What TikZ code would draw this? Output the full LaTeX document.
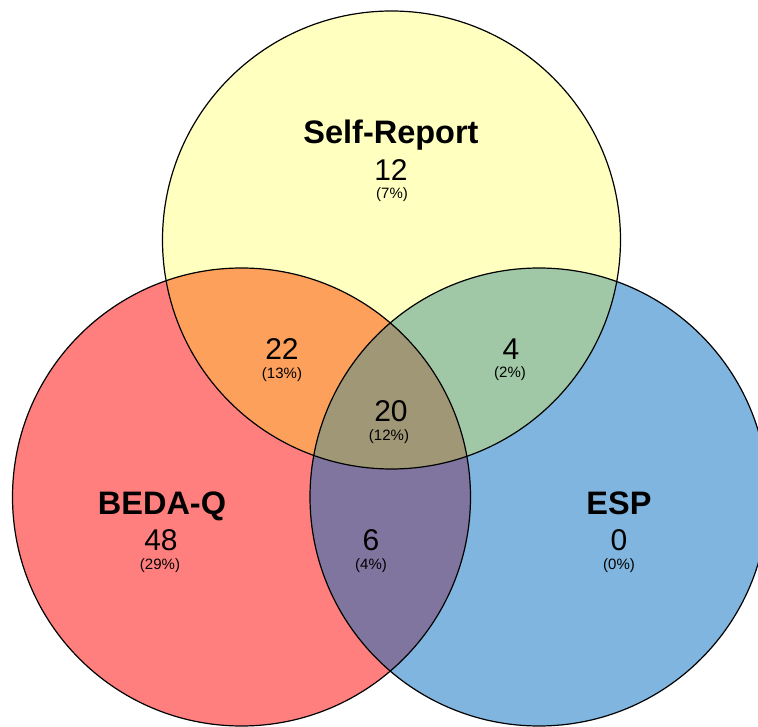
\documentclass[tikz,border=0pt]{standalone}
\usepackage{fontspec}
\setmainfont{Liberation Sans}
\definecolor{cY}{RGB}{255,255,192}
\definecolor{cR}{RGB}{255,127,127}
\definecolor{cB}{RGB}{127,181,222}
\definecolor{cRY}{RGB}{253,160,92}
\definecolor{cYB}{RGB}{160,200,166}
\definecolor{cRB}{RGB}{128,117,158}
\definecolor{cRYB}{RGB}{160,151,118}
\begin{document}
\begin{tikzpicture}[x=1pt,y=1pt,
  setname/.style={font=\bfseries\fontsize{32.5}{32.5}\selectfont, anchor=base, inner sep=0pt},
  count/.style={font=\fontsize{30}{30}\selectfont, anchor=base, inner sep=0pt},
  pct/.style={font=\fontsize{15}{15}\selectfont, anchor=base, inner sep=0pt},
  outline/.style={draw=black, line width=1.2pt}]
\useasboundingbox (0,0) rectangle (758,726);
\clip (0,0) rectangle (758,726);
\def\rad{229}
\coordinate (Y) at (391.5,486);
\coordinate (R) at (241.5,229);
\coordinate (B) at (539,229);
% base fills
\fill[cY] (Y) circle (\rad);
\fill[cR] (R) circle (\rad);
\fill[cB] (B) circle (\rad);
% pairwise overlaps
\begin{scope}\clip (R) circle (\rad); \fill[cRY] (Y) circle (\rad);\end{scope}
\begin{scope}\clip (Y) circle (\rad); \fill[cYB] (B) circle (\rad);\end{scope}
\begin{scope}\clip (R) circle (\rad); \fill[cRB] (B) circle (\rad);\end{scope}
% triple overlap
\begin{scope}\clip (R) circle (\rad); \clip (Y) circle (\rad); \fill[cRYB] (B) circle (\rad);\end{scope}
% outlines
\draw[outline] (Y) circle (\rad);
\draw[outline] (R) circle (\rad);
\draw[outline] (B) circle (\rad);
% labels
\node[setname] (nSR) at (391,582) {Self-Report};
\node[count] (c12) at (391,545) {12};
\node[pct] (p7) at (392,527) {(7\%)};
\node[count] (c22) at (282,366) {22};
\node[pct] (p13) at (282,347) {(13\%)};
\node[count] (c4) at (511,366) {4};
\node[pct] (p2) at (510,348) {(2\%)};
\node[count] (c20) at (391,304) {20};
\node[pct] (p12) at (389,285) {(12\%)};
\node[setname] (nBQ) at (162,211) {BEDA-Q};
\node[count] (c48) at (161,175) {48};
\node[pct] (p29) at (160,156) {(29\%)};
\node[count] (c6) at (371,175) {6};
\node[pct] (p4) at (371,156) {(4\%)};
\node[setname] (nESP) at (619,211) {ESP};
\node[count] (c0) at (619,175) {0};
\node[pct] (p0) at (619,156) {(0\%)};
\end{tikzpicture}
\end{document}
